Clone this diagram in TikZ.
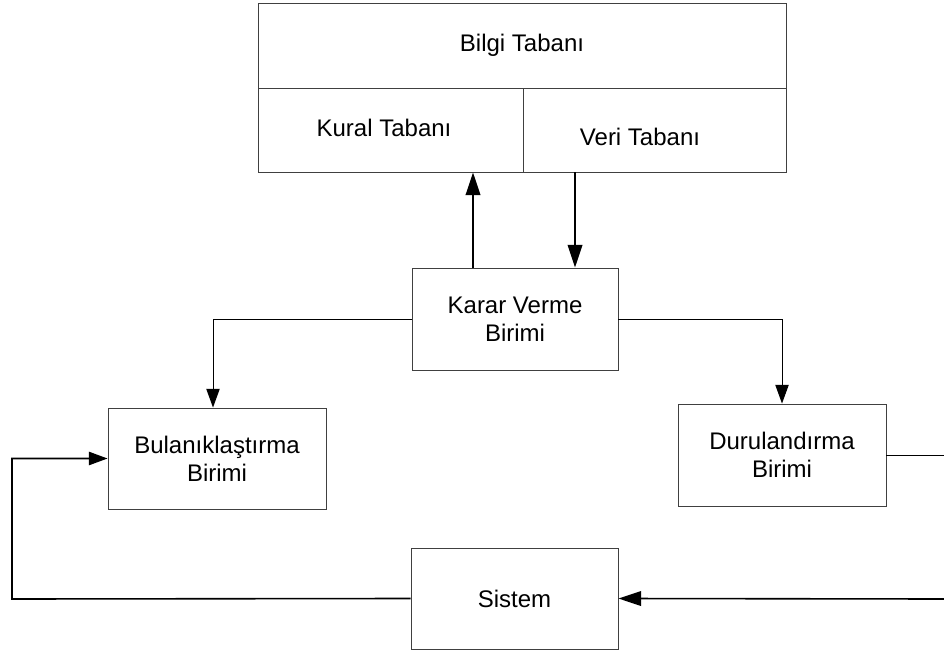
\documentclass[tikz,border=0pt]{standalone}
\usepackage{fontspec}
\setmainfont{Liberation Sans}
\usetikzlibrary{arrows.meta}
\begin{document}
\begin{tikzpicture}[x=0.75pt,y=-0.75pt,
  box/.style={draw=black!75,line width=0.7pt,inner sep=0pt,align=center,font=\fontsize{18}{21}\selectfont},
  txt/.style={inner sep=0pt,align=center,font=\fontsize{18}{21}\selectfont},
  thinline/.style={line width=0.7pt},
  thickline/.style={line width=1.2pt},
  bigtip/.style={-{Triangle[length=17pt,width=11pt]}},
  tip/.style={-{Triangle[length=14pt,width=10pt]}}]
\useasboundingbox (0,0) rectangle (944,655);
% knowledge base
\node[box,minimum width=396pt,minimum height=63.75pt] (bilgi) at (522,45.5) {Bilgi Tabanı};
\node[box,minimum width=198.75pt,minimum height=63pt] (kural) at (390.5,130) {};
\node[box,minimum width=197.25pt,minimum height=63pt] (veri) at (654.5,130) {};
\node[txt] (kuralt) at (384,128) {Kural Tabanı};
\node[txt] (verit) at (640,137) {Veri Tabanı};
% units
\node[box,minimum width=154.5pt,minimum height=76.5pt] (karar) at (515,319) {Karar Verme\\Birimi};
\node[box,minimum width=163.5pt,minimum height=75.75pt] (bul) at (217,458.5) {Bulanıklaştırma\\Birimi};
\node[box,minimum width=156pt,minimum height=76.5pt] (duru) at (782,455) {Durulandırma\\Birimi};
\node[box,minimum width=155.25pt,minimum height=75.75pt] (sis) at (514.5,598.5) {Sistem};
% coordinates
\coordinate (u) at (473,0);
\coordinate (d) at (575,0);
\coordinate (bx) at (213,0);
\coordinate (r1) at (944,455);
\coordinate (r2) at (944,599);
\coordinate (l1) at (12,599);
% connectors
\draw[thickline,bigtip] (karar.north -| u) -- (kural.south -| u);
\draw[thickline,bigtip] (veri.south -| d) -- (karar.north -| d);
\draw[thinline,tip] (karar.west) -| (bul.north -| bx);
\draw[thinline,tip] (karar.east) -| (duru.north);
\draw[thinline] (duru.east) -- (r1);
\draw[thickline,bigtip] (r2) -- (sis.east);
\draw[thickline,tip] (sis.west) -- (l1) |- (bul.west);
\end{tikzpicture}
\end{document}
